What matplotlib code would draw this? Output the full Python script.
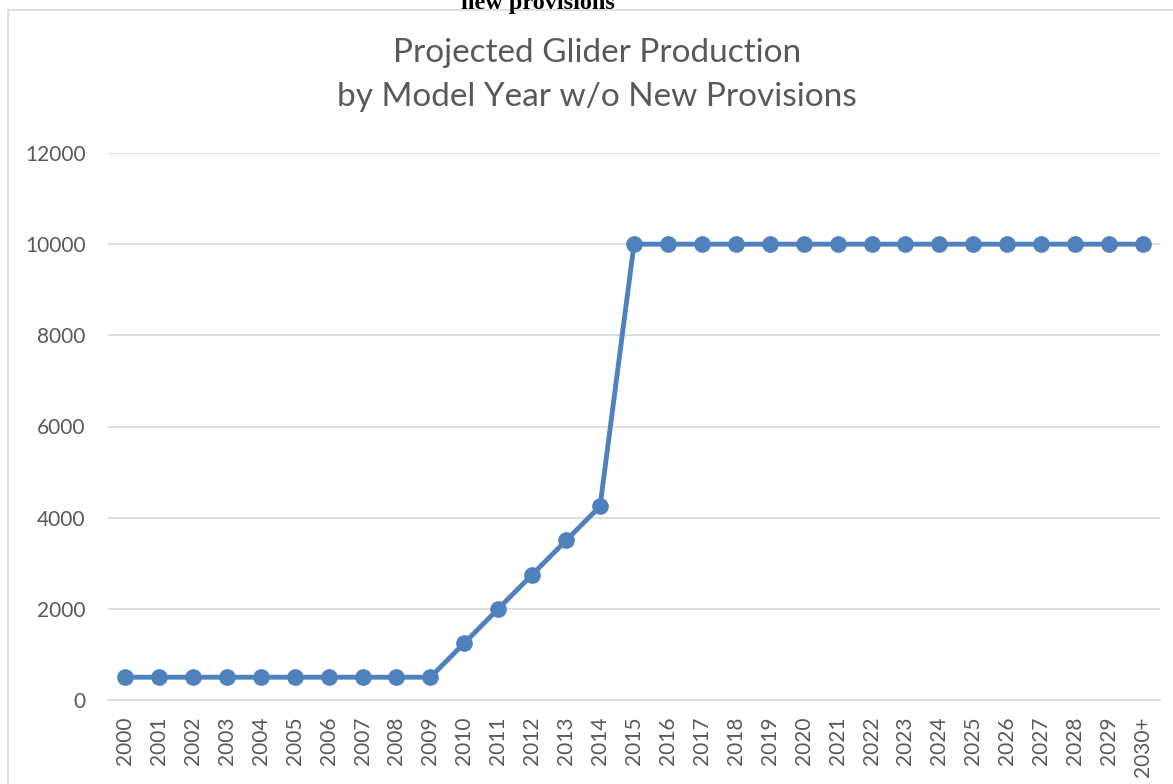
import matplotlib.pyplot as plt
from matplotlib.patches import Rectangle

years = [str(y) for y in range(2000, 2030)] + ['2030+']
production = [500] * 10 + [1250, 2000, 2750, 3500, 4250] + [10000] * 16
yticks = [0, 2000, 4000, 6000, 8000, 10000, 12000]

blue = '#4F81BD'
grey_txt = '#595959'
grid_c = '#D9D9D9'
font = ['Lato', 'DejaVu Sans']

W, H = 1173, 784
fig = plt.figure(figsize=(W / 100, H / 100), dpi=100)

# chart border (partially cut off in the original screenshot)
fig.patches.append(Rectangle((8 / W, -0.1), 1.2, (H - 10) / H + 0.1, transform=fig.transFigure,
                             fill=False, edgecolor=grid_c, lw=1.2))

# caption fragment at the very top, cut off as in the source
fig.text(538 / W, 1 - 9 / H, 'new provisions', ha='center', va='baseline',
         family='Liberation Serif', weight='bold', fontsize=17.5)

ax = fig.add_axes([108 / W, (H - 700) / H, (1160 - 108) / W, (700 - 153) / H])
x = list(range(len(years)))
ax.plot(x, production, color=blue, lw=3.5, marker='o', markersize=11, solid_capstyle='round')

ax.set_xlim(-0.5, len(years) - 0.5)
ax.set_ylim(0, 12000)
ax.set_yticks(yticks)
ax.set_yticklabels([str(v) for v in yticks])
ax.set_xticks(x)
ax.set_xticklabels(years, rotation=90)
ax.grid(axis='y', color=grid_c, lw=1.2)
ax.set_axisbelow(True)
for s in ['top', 'right', 'left']:
    ax.spines[s].set_visible(False)
ax.spines['bottom'].set_color(grid_c)
ax.spines['bottom'].set_linewidth(1.2)
ax.tick_params(axis='both', length=0, colors=grey_txt, labelsize=15)
ax.tick_params(axis='y', pad=16)
ax.tick_params(axis='x', pad=12)
for lab in ax.get_xticklabels() + ax.get_yticklabels():
    lab.set_family(font)

fig.text(597 / W, 1 - 53 / H, 'Projected Glider Production', ha='center', va='center',
         color=grey_txt, fontsize=24, family=font)
fig.text(597 / W, 1 - 97 / H, 'by Model Year w/o New Provisions', ha='center', va='center',
         color=grey_txt, fontsize=24, family=font)

fig.savefig('out.png', dpi=100)
